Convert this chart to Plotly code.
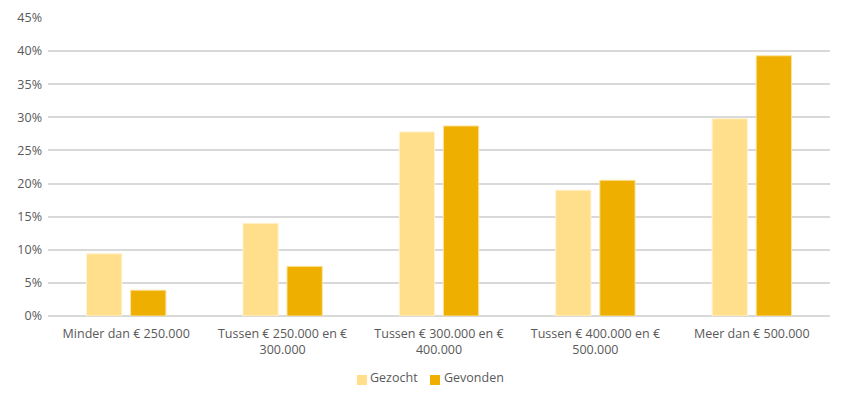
import plotly.graph_objects as go

categories = ["Minder dan € 250.000", "Tussen € 250.000 en €<br>300.000",
              "Tussen € 300.000 en €<br>400.000", "Tussen € 400.000 en €<br>500.000",
              "Meer dan € 500.000"]
gezocht = [0.094, 0.140, 0.278, 0.190, 0.298]
gevonden = [0.039, 0.075, 0.287, 0.205, 0.393]
tick_vals = [0, 0.05, 0.10, 0.15, 0.20, 0.25, 0.30, 0.35, 0.40, 0.45]
tick_text = ["0%", "5%", "10%", "15%", "20%", "25%", "30%", "35%", "40%", "45%"]
series_names = ["Gezocht", "Gevonden"]
series_colors = ["#FFDF8C", "#EEAF00"]

fig = go.Figure()
fig.add_trace(go.Bar(name=series_names[0], x=categories, y=gezocht,
                     marker=dict(color=series_colors[0], line=dict(color="#FFF3D0", width=1))))
fig.add_trace(go.Bar(name=series_names[1], x=categories, y=gevonden,
                     marker=dict(color=series_colors[1], line=dict(color="#FAE3A0", width=1))))

# manual legend: coloured square + label, below the x-axis labels
legend_sq_x0 = [0.3951, 0.4885]
legend_sq_x1 = [0.4079, 0.5013]
legend_tx_x = [0.4105, 0.5051]
for n, c, x0, x1, tx in zip(series_names, series_colors, legend_sq_x0, legend_sq_x1, legend_tx_x):
    fig.add_shape(type="rect", xref="paper", yref="paper", x0=x0, x1=x1,
                  y0=-0.2315, y1=-0.198, fillcolor=c, line=dict(width=0))
    fig.add_annotation(text=n, xref="paper", yref="paper", x=tx, y=-0.208,
                       xanchor="left", yanchor="middle", showarrow=False, borderpad=0,
                       font=dict(family="Open Sans", size=12.5, color="#595959"))

fig.update_layout(
    width=825, height=380,
    margin=dict(l=40, r=3, t=10, b=72),
    paper_bgcolor="white", plot_bgcolor="white",
    font=dict(family="Open Sans", size=12.5, color="#595959"),
    barmode="group", bargap=0.436, bargroupgap=0.2,
    showlegend=False,
    xaxis=dict(showgrid=False, ticks="", showline=False, automargin=False,
               ticklabelstandoff=8),
    yaxis=dict(range=[0, 0.45], tickvals=tick_vals, ticktext=tick_text,
               showgrid=True, gridcolor="#D9D9D9", gridwidth=1.5,
               zeroline=True, zerolinecolor="#D9D9D9", zerolinewidth=1.5,
               ticks="", automargin=False, ticklabelstandoff=5),
)
fig.write_html("out.html")
